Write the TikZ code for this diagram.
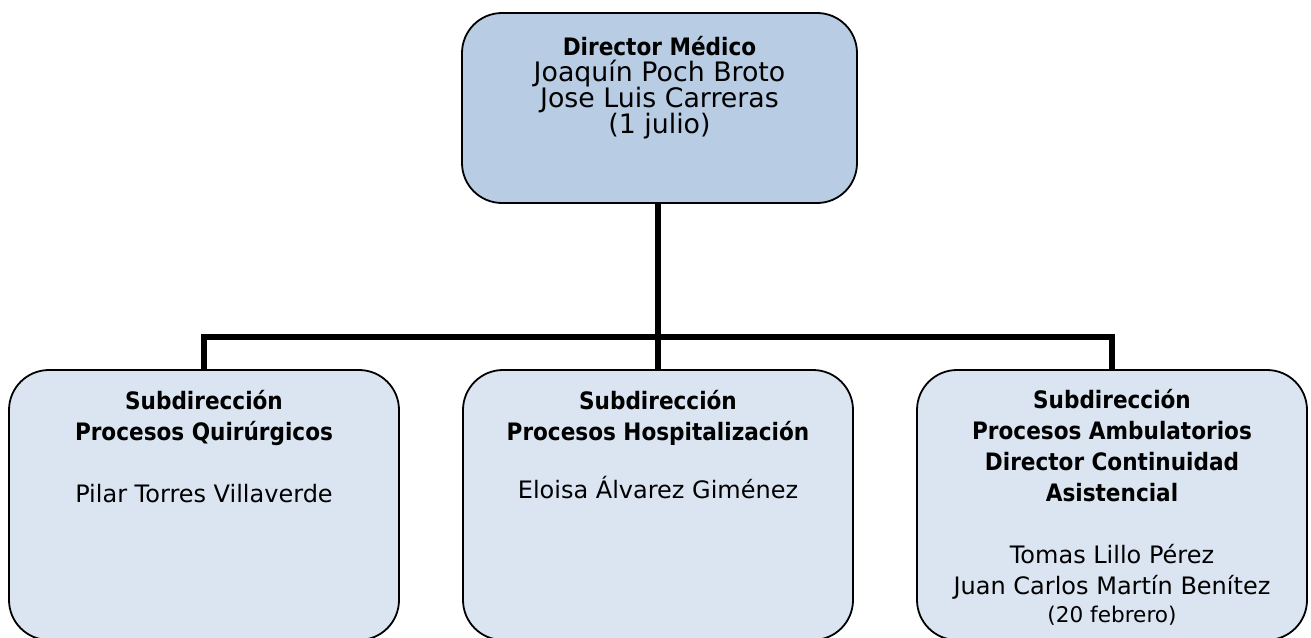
\documentclass[tikz,border=0pt]{standalone}
\usepackage{fontspec}
\setmainfont{DejaVu Sans}
\newfontfamily\condFont{DejaVu Sans Condensed}
\usetikzlibrary{positioning}
\tikzstyle{chart} = [x = 0.5pt, y = -0.5pt]
\definecolor{topFill}{HTML}{B8CCE4}
\definecolor{subFill}{HTML}{DBE5F1}
\tikzstyle{boxStyle} = [draw=black, line width=0.9pt, rounded corners=20pt, inner sep=0pt]
\tikzstyle{topBox} = [boxStyle, fill=topFill, minimum width=197.5pt, minimum height=95pt]
\tikzstyle{subBox} = [boxStyle, fill=subFill, minimum width=195pt, minimum height=135pt]
\tikzstyle{connLine} = [color=black, line width=2.8pt]
\tikzstyle{boxText} = [align=center, inner sep=0pt, anchor=base]
\newcommand{\headFont}{\condFont\fontsize{12}{13}\bfseries\selectfont}
\newcommand{\nameFont}{\fontsize{13.4}{13}\selectfont\lineskiplimit=-20pt}
\newcommand{\subHead}{\condFont\fontsize{12}{15.5}\bfseries\selectfont}
\newcommand{\subName}{\fontsize{12}{15.5}\selectfont\lineskiplimit=-20pt}
\newcommand{\dateFont}{\fontsize{10.8}{14}\selectfont}

\begin{document}
\begin{tikzpicture}[chart]
  \useasboundingbox (0,0) rectangle (1311,637);
  % boxes
  \node (director) [topBox] at (659.5,108) {};
  \node (quirurgicos) [subBox] at (204,505) {};
  \node (hospital) [subBox] at (658,505) {};
  \node (ambulatorios) [subBox] at (1112,505) {};
  \coordinate (bus) at (658,337);
  % connectors
  \draw [connLine] (director.south -| hospital.north) -- (hospital.north);
  \draw [connLine] (quirurgicos.north) |- (bus) -| (ambulatorios.north);
  % texts (anchored at the last baseline)
  \node (directorText) [boxText, font=\nameFont] at (659.5,133)
    {{\headFont Director Médico}\\Joaquín Poch Broto\\Jose Luis Carreras\\(1 julio)};
  \node (quirurgicosText) [boxText, font=\subName] at (204,502)
    {{\subHead Subdirección}\\{\subHead Procesos Quirúrgicos}\\[15.5pt]Pilar Torres Villaverde};
  \node (hospitalText) [boxText, font=\subName] at (658,498)
    {{\subHead Subdirección}\\{\subHead Procesos Hospitalización}\\[13.5pt]Eloisa Álvarez Giménez};
  \node (ambulatoriosText) [boxText, font=\subName] at (1112,622)
    {{\subHead Subdirección}\\{\subHead Procesos Ambulatorios}\\{\subHead Director Continuidad}\\{\subHead Asistencial}\\[15.5pt]Tomas Lillo Pérez\\Juan Carlos Martín Benítez\\[-1.5pt]{\dateFont (20 febrero)}};
\end{tikzpicture}
\end{document}
